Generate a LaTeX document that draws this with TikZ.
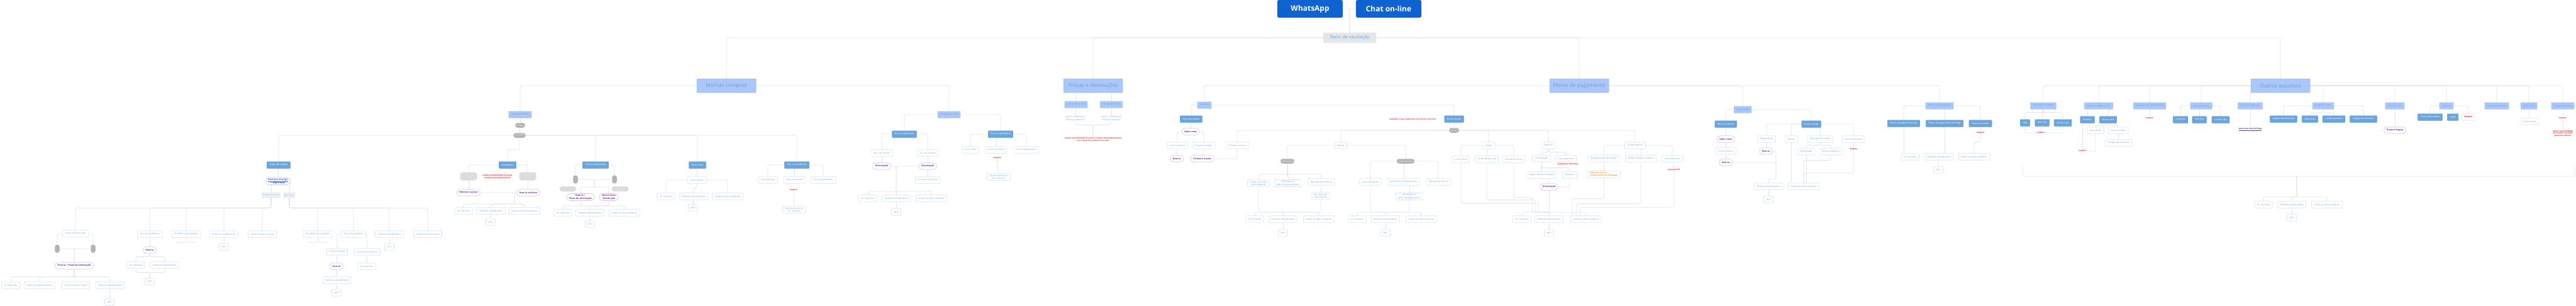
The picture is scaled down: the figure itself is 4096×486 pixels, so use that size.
\documentclass[tikz,border=0pt]{standalone}
\usepackage{fontspec}
\setmainfont{Open Sans}
\usepackage{tikz}
\usetikzlibrary{arrows.meta,positioning,calc,backgrounds}
\definecolor{btnblue}{HTML}{0E63D0}
\definecolor{greetfill}{HTML}{E4E6E9}
\definecolor{greettext}{HTML}{72A8DE}
\definecolor{catfill}{HTML}{A9C7F8}
\definecolor{catdraw}{HTML}{9CBCF2}
\definecolor{cattext}{HTML}{6C9FD6}
\definecolor{topicfill}{HTML}{6AA6DD}
\definecolor{topicdraw}{HTML}{5B9AD5}
\definecolor{optdraw}{HTML}{D8E6F6}
\definecolor{opttext}{HTML}{7DB1E6}
\definecolor{howdraw}{HTML}{D9C8EE}
\definecolor{howtext}{HTML}{6F2DA8}
\definecolor{pillgrey}{HTML}{B3B3B3}
\definecolor{tagfill}{HTML}{EEF1F4}
\definecolor{tagdraw}{HTML}{D5DAE0}
\definecolor{dotgrey}{HTML}{DCDCDC}
\definecolor{notered}{HTML}{FF2A2A}
\definecolor{noteorange}{HTML}{F2A23C}
\definecolor{faintgrey}{HTML}{D9D9D9}
\definecolor{linegrey}{HTML}{E2E5E9}
\definecolor{linkblue}{HTML}{2F6FD6}
\tikzset{
  bigbtn/.style={rectangle,rounded corners=2.5mm,fill=btnblue,text=white,align=center,minimum width=104mm,minimum height=28mm,font=\fontsize{34}{38}\selectfont\bfseries},
  greetbox/.style={rectangle,rounded corners=1mm,fill=greetfill,draw=greetfill,text=greettext,align=center,minimum width=84mm,minimum height=16mm,font=\fontsize{21}{24}\selectfont},
  l1box/.style={rectangle,rounded corners=0.6mm,fill=catfill,draw=catdraw,line width=0.5mm,text=cattext,align=center,minimum width=94mm,minimum height=22mm,font=\fontsize{24}{28}\selectfont},
  catbox/.style={rectangle,rounded corners=0.6mm,fill=catfill,draw=catdraw,line width=0.5mm,densely dashed,text=cattext,align=center,inner xsep=4mm,minimum height=10.5mm,font=\fontsize{10.5}{12.5}\selectfont},
  topicbox/.style={rectangle,rounded corners=0.6mm,fill=topicfill,draw=topicdraw,line width=0.5mm,text=white,align=center,inner xsep=4mm,minimum height=10.5mm,font=\fontsize{10.5}{12.5}\selectfont},
  optbox/.style={rectangle,rounded corners=1mm,fill=white,draw=optdraw,line width=0.7mm,text=opttext,align=center,inner xsep=4mm,inner ysep=1.5mm,minimum height=10.5mm,font=\fontsize{10.5}{12.5}\selectfont},
  howbox/.style={rectangle,rounded corners=5mm,fill=white,draw=howdraw,line width=0.7mm,text=howtext,align=center,inner xsep=4mm,inner ysep=1.5mm,minimum height=10.5mm,font=\fontsize{10.5}{12.5}\selectfont\bfseries},
  idpill/.style={rectangle,rounded corners=3.5mm,fill=pillgrey,text=white,align=center,inner xsep=2.5mm,inner ysep=0.5mm,minimum height=7.5mm,font=\fontsize{8.5}{10}\selectfont},
  tagbox/.style={rectangle,rounded corners=0.6mm,fill=tagfill,draw=tagdraw,line width=0.5mm,densely dotted,text=opttext,align=center,inner xsep=1.5mm,inner ysep=0.5mm,minimum height=8mm,font=\fontsize{8}{9}\selectfont},
  vpill/.style={rectangle,rounded corners=3.5mm,fill=pillgrey,text=white,align=center,inner sep=0mm,minimum width=7.5mm,minimum height=13mm,font=\fontsize{6}{6}\selectfont},
  dotbox/.style={rectangle,rounded corners=4mm,fill=dotgrey,text=white,align=center,inner sep=0.5mm,minimum width=27mm,minimum height=#1,font=\fontsize{7}{7}\selectfont\bfseries},
  notered/.style={text=notered,align=center,inner sep=0.5mm,font=\fontsize{9}{10.5}\selectfont\bfseries},
  orangebox/.style={optbox,text=noteorange,align=left,font=\fontsize{9.5}{11}\selectfont\bfseries},
  mapbox/.style={optbox,text=notered,font=\fontsize{10}{12}\selectfont\bfseries},
  faint/.style={text=faintgrey,inner sep=0.5mm,font=\fontsize{9.5}{11}\selectfont},
  igual/.style={text=opttext,align=center,inner sep=0.5mm,font=\fontsize{10}{12}\selectfont},
  webtext/.style={text=howtext,inner sep=0.5mm,font=\fontsize{9.5}{11}\selectfont\bfseries},
  arrow/.style={-{Latex[length=2mm,width=1.8mm]},line width=0.8mm,draw=linegrey,rounded corners=3mm},
  wire/.style={line width=0.8mm,draw=linegrey,rounded corners=3mm}
}

\begin{document}
\begin{tikzpicture}[x=1mm,y=-1mm]
  \begin{scope}[on background layer]
    \fill[white] (0,0) rectangle (4096,486);
  \end{scope}
  \useasboundingbox (0,0) rectangle (4096,486);

  \node[bigbtn] (wa) at (2083,14) {WhatsApp};
  \node[bigbtn] (chat) at (2208,14) {Chat on-line};
  \node[greetbox] (greet) at (2146,60) {Texto de saudação};

  \node[l1box] (minhas) at (1155,136) {Minhas compras};
  \node[l1box] (trocas) at (1738,136) {Trocas e devoluções};
  \node[l1box] (meios) at (2511,136) {Meios de pagamento};
  \node[l1box] (outros) at (3626,136) {Outros assuntos};

  \node[catbox] (mcOn) at (827,182) {Compras on-line};
  \node[catbox] (mcLoja) at (1509,182) {Compras na loja};
  \node[idpill] (idUser) at (827,199) {id. user};
  \node[idpill] (idPed) at (826,215) {id. pedido};

  \node[topicbox] (status) at (443,262) {Status do pedido};
  \node[howbox] (rastrear) at (442,288) {{\color{linkblue}\underline{Rastrear entrega}}\\+ explicação};
  \node[tagbox] (recebi) at (431,310) {Recebi meu pedido};
  \node[tagbox] (naoRec) at (460,310) {Não recebi};
  \node[optbox] (tdA) at (120,371) {Troca ou devolução};
  \node[optbox] (tpA) at (238,372) {Tive um problema};
  \node[optbox] (eoA) at (296,372) {Escolher outro pedido};
  \node[optbox] (faA) at (356,372) {Finalizar atendimento};
  \node[optbox] (vmA) at (417,372) {Voltar ao menu inicial};
  \node[faint] (voltaA) at (296,386) {volta para id. pedido};
  \node[optbox] (npsA) at (356,392) {NPS};
  \node[optbox] (eoB) at (505,372) {Escolher outro pedido};
  \node[optbox] (tpB) at (562,372) {Tive um problema};
  \node[optbox] (faB) at (619,372) {Finalizar atendimento};
  \node[optbox] (vmB) at (680,372) {Voltar ao menu inicial};
  \node[faint] (voltaB) at (505,386) {volta para id. pedido};
  \node[optbox] (npsB) at (619,392) {NPS};
  \node[vpill] (vp1) at (91,395) {·\\·};
  \node[vpill] (vp2) at (148,395) {·\\·};
  \node[howbox] (howA) at (118,422) {How to + Fluxo de solicitação};
  \node[optbox] (ahA) at (17,453) {At. Humano};
  \node[optbox] (vaA) at (63,453) {Voltar ao menu anterior};
  \node[optbox] (viA) at (120,453) {Voltar ao menu inicial};
  \node[optbox] (fnA) at (175,453) {Finalizar atendimento};
  \node[optbox] (npsC) at (174,480) {NPS};
  \node[howbox] (howB) at (238,397) {How to};
  \node[optbox] (ahB) at (216,421) {At. humano};
  \node[optbox] (fnB) at (262,421) {Finalizar atendimento};
  \node[optbox] (npsD) at (238,447) {NPS};
  \node[optbox] (ceA) at (536,400) {Com a entrega};
  \node[optbox] (coA) at (584,400) {Com outro assunto};
  \node[howbox] (howC) at (535,423) {How to};
  \node[optbox] (ahC) at (583,423) {At. humano};
  \node[optbox] (fnC) at (536,445) {Finalizar atendimento};
  \node[optbox] (npsE) at (535,465) {NPS};

  \node[topicbox] (reemb) at (807,262) {Reembolso};
  \node[dotbox=13mm] (dotL) at (745,280) {· · · · · · ·\\· · · · · ·};
  \node[dotbox=13mm] (dotR) at (839,280) {· · · · · · ·\\· · · · · ·};
  \node[notered] (noteA) at (791,280) {avaliar possibilidade de puxar\\o status automaticamente};
  \node[howbox] (mostrar) at (745,306) {Mostrar o prazo};
  \node[howbox] (howSol) at (840,306) {How to solicitar};
  \node[optbox] (ahD) at (737,335) {At. humano};
  \node[optbox] (fnD) at (781,335) {Finalizar atendimento};
  \node[optbox] (vaD) at (834,335) {Voltar ao menu anterior};
  \node[optbox] (npsF) at (780,353) {NPS};

  \node[topicbox] (tdv) at (947,262) {Troca ou devolução};
  \node[vpill] (vp3) at (915,285) {·\\·};
  \node[vpill] (vp4) at (977,285) {·\\·};
  \node[dotbox=8mm] (dot3) at (903,300) {· · · · · · ·};
  \node[dotbox=8mm] (dot4) at (986,300) {· · · · · · ·};
  \node[howbox] (howD) at (923,313) {How to +\\Fluxo de solicitação};
  \node[howbox] (stD) at (968,313) {Status troca\\/devolução};
  \node[optbox] (ahE) at (895,338) {At. humano};
  \node[optbox] (fnE) at (938,338) {Finalizar atendimento};
  \node[optbox] (vaE) at (993,338) {Voltar ao menu anterior};
  \node[optbox] (npsG) at (938,356) {NPS};

  \node[topicbox] (nf) at (1109,262) {Nota Fiscal};
  \node[optbox] (comoB) at (1108,286) {Como baixar};
  \node[optbox] (ahF) at (1059,312) {At. humano};
  \node[optbox] (fnF) at (1103,312) {Finalizar atendimento};
  \node[optbox] (vaF) at (1157,312) {Voltar ao menu anterior};
  \node[optbox] (npsH) at (1102,330) {NPS};

  \node[topicbox] (tpC) at (1267,262) {Tive um problema};
  \node[optbox] (ceB) at (1221,286) {Com entrega};
  \node[optbox] (cpB) at (1263,286) {Com o produto};
  \node[optbox] (cgB) at (1309,286) {Com o pagamento};
  \node[notered] (map1) at (1262,302) {mapear};
  \node[optbox] (dirA) at (1263,333) {Direcionamento/\\At. humano};

  \node[topicbox] (tedA) at (1438,213) {Troca e devolução};
  \node[topicbox] (tpD) at (1591,213) {Tive um problema};
  \node[optbox] (hmA) at (1402,243) {Há + de 30 dias};
  \node[optbox] (hmB) at (1475,243) {Há - de 30 dias};
  \node[howbox] (orA) at (1402,264) {Orientação};
  \node[howbox] (orB) at (1475,264) {Orientação};
  \node[optbox] (encA) at (1475,286) {Encontre uma loja};
  \node[optbox] (ahG) at (1380,315) {At. humano};
  \node[optbox] (fnG) at (1425,315) {Finalizar atendimento};
  \node[optbox] (vaG) at (1481,315) {Voltar ao menu anterior};
  \node[optbox] (npsI) at (1425,337) {NPS};
  \node[optbox] (clB) at (1543,238) {Com a loja};
  \node[optbox] (cpC) at (1584,238) {Com o produto};
  \node[optbox] (cgC) at (1632,238) {Com o pagamento};
  \node[notered] (map2) at (1586,251) {mapear};
  \node[optbox] (dirB) at (1588,281) {Direcionamento/\\At. humano};

  \node[catbox] (tdOn) at (1711,166) {Compras on-line};
  \node[catbox] (tdLoja) at (1767,166) {Compras na loja};
  \node[igual] (igA) at (1710,188) {Igual o caminho de\\“Minhas compras”};
  \node[igual] (igB) at (1767,188) {Igual o caminho de\\“Minhas compras”};
  \node[notered] (noteB) at (1738,222) {avaliar possibilidade de puxar o status automaticamente\\(se o usuário já solicitou ou não)};

  \node[catbox] (pay) at (1915,167) {C\&A Pay};
  \node[topicbox] (nsA) at (1894,189) {Não sou cliente};
  \node[topicbox] (jsA) at (2312,189) {Já sou cliente};
  \node[notered] (noteC) at (2246,190) {entender o que realmente vai entrar na árvore};
  \node[howbox] (saberA) at (1893,209) {Saber mais};
  \node[optbox] (csA) at (1872,231) {Como solicitar};
  \node[optbox] (paA) at (1914,231) {Primeiro acesso};
  \node[howbox] (howE) at (1871,252) {How to};
  \node[howbox] (paB) at (1912,252) {Primeiro acesso};
  \node[optbox] (paC) at (1967,231) {Primeiro acesso};
  \node[idpill] (idUser2) at (2312,207) {id. user};
  \node[optbox] (fat) at (2132,231) {Fatura};
  \node[optbox] (lim) at (2367,231) {Limites};
  \node[optbox] (seg) at (2462,231) {Seguros};
  \node[optbox] (outOp) at (2600,231) {Outras opções};

  \node[idpill] (upaga) at (2047,256) {Última paga};
  \node[idpill] (unpaga) at (2235,256) {Última não paga};
  \node[optbox] (ccf) at (2001,291) {Como consultar\\fatura aberta};
  \node[optbox] (apA) at (2048,291) {Alteração no\\plano de pagamento};
  \node[optbox] (dvA) at (2101,289) {Data de vencimento};
  \node[optbox] (adv) at (2100,311) {Alt. Data de\\vencimento};
  \node[optbox] (ahH) at (1995,348) {At. humano};
  \node[optbox] (fnH) at (2040,348) {Finalizar atendimento};
  \node[optbox] (vaH) at (2097,348) {Voltar ao menu anterior};
  \node[optbox] (npsJ) at (2040,370) {NPS};
  \node[optbox] (v2) at (2179,289) {2a via da fatura};
  \node[optbox] (cpag) at (2232,289) {Condições de pagamento};
  \node[optbox] (renf) at (2287,289) {Renegociar fatura};
  \node[optbox] (apB) at (2241,312) {Alteração no\\plano de pagamento};
  \node[optbox] (ahI) at (2158,348) {At. humano};
  \node[optbox] (fnI) at (2203,348) {Finalizar atendimento};
  \node[optbox] (vaI) at (2260,348) {Voltar ao menu anterior};
  \node[optbox] (npsK) at (2203,370) {NPS};

  \node[optbox] (lt) at (2323,253) {Limite total};
  \node[optbox] (ld) at (2364,253) {Limite disponível};
  \node[optbox] (al) at (2407,253) {Aumentar limite};
  \node[optbox] (contr) at (2451,252) {Contratação};
  \node[optbox] (canc) at (2490,252) {Cancelamento};
  \node[notered] (noteD) at (2493,261) {já passa no bot atual};
  \node[optbox] (sbp) at (2452,278) {Seguro Bolsa Protegida};
  \node[optbox] (sx) at (2496,278) {Seguro X};
  \node[howbox] (orC) at (2463,297) {Orientação};
  \node[optbox] (rd) at (2550,252) {Renegociação de dívidas};
  \node[optbox] (mdc) at (2609,252) {Melhor dia pra comprar};
  \node[optbox] (cancB) at (2659,252) {Cancelamento};
  \node[orangebox] (orng) at (2550,277) {Importar just do\\renegociação do Whatsapp};
  \node[notered] (noteE) at (2662,270) {já passa API};
  \node[optbox] (ahJ) at (2420,348) {At. humano};
  \node[optbox] (fnJ) at (2463,348) {Finalizar atendimento};
  \node[optbox] (vaJ) at (2522,348) {Voltar ao menu anterior};
  \node[optbox] (npsL) at (2463,370) {NPS};

  \node[catbox] (cartao) at (2771,174) {Cartão C\&A};
  \node[topicbox] (nsB) at (2744,197) {Não sou cliente};
  \node[topicbox] (jsB) at (2880,197) {Já sou cliente};
  \node[howbox] (saberB) at (2744,221) {Saber mais};
  \node[optbox] (csB) at (2744,240) {Como solicitar};
  \node[howbox] (howF) at (2744,258) {How to};
  \node[optbox] (sv) at (2809,221) {Segunda via};
  \node[optbox] (ext) at (2848,221) {Extrato};
  \node[optbox] (bloq) at (2894,221) {Bloqueio de cartão};
  \node[optbox] (oaB) at (2947,221) {Outros assuntos};
  \node[howbox] (howG) at (2808,240) {How to};
  \node[optbox] (blqd) at (2872,241) {Bloqueado};
  \node[optbox] (dbl) at (2911,241) {Desejo bloquear};
  \node[notered] (map3) at (2947,237) {mapear};
  \node[optbox] (fnK) at (2812,296) {Finalizar atendimento};
  \node[optbox] (vaK) at (2868,296) {Voltar ao menu anterior};
  \node[optbox] (npsM) at (2812,317) {NPS};

  \node[catbox] (mp) at (3084,168) {Meios de pagamento};
  \node[topicbox] (mpl) at (3027,196) {Meios de pagamento loja};
  \node[topicbox] (mps) at (3092,196) {Meios de pagamento site/app};
  \node[topicbox] (oaC) at (3149,196) {Outros assuntos};
  \node[notered] (map4) at (3149,211) {mapear};
  \node[optbox] (ahK) at (3037,249) {At. humano};
  \node[optbox] (fnL) at (3083,249) {Finalizar atendimento};
  \node[optbox] (vaL) at (3139,249) {Voltar ao menu anterior};
  \node[optbox] (npsN) at (3082,270) {NPS};

  \node[catbox] (ad) at (3249,168) {Alteração de dados};
  \node[catbox] (cvc) at (3337,168) {C\&A\&VC e Minha C\&A};
  \node[catbox] (camp) at (3418,168) {Campanhas e promoções};
  \node[catbox] (cancC) at (3500,168) {Cancelamentos};
  \node[catbox] (enc) at (3578,168) {Encontre uma loja};
  \node[catbox] (cup) at (3694,168) {Cupons e vales};
  \node[catbox] (duv) at (3808,168) {Dúvidas C\&A};
  \node[catbox] (pol) at (3890,168) {Políticas};
  \node[catbox] (trab) at (3970,168) {Trabalhe conosco};
  \node[catbox] (nfB) at (4021,168) {Nota fiscal};
  \node[catbox] (oaD) at (4075,168) {Outros assuntos};
  \node[topicbox] (c1) at (3220,195) {C\&A};
  \node[topicbox] (c2) at (3247,195) {C\&A Pay};
  \node[topicbox] (c3) at (3280,195) {Cartão C\&A};
  \node[notered] (map5) at (3245,211) {mapear};
  \node[topicbox] (cv1) at (3319,190) {C\&A\&VC};
  \node[topicbox] (cv2) at (3352,190) {Minha C\&A};
  \node[optbox] (sc) at (3332,207) {Sou cliente};
  \node[optbox] (scons) at (3368,207) {Sou consultor};
  \node[optbox] (cdc) at (3369,227) {Código de consultor};
  \node[notered] (map6) at (3311,240) {mapear};
  \node[notered] (map7) at (3418,188) {mapear};
  \node[topicbox] (cp1) at (3467,190) {Compras};
  \node[topicbox] (cp2) at (3497,190) {C\&A Pay};
  \node[topicbox] (cp3) at (3531,190) {Cartão C\&A};
  \node[webtext] (lnk) at (3578,205) {\underline{www.cea.com.br/lojas}};
  \node[topicbox] (cd) at (3631,189) {Cupom de desconto};
  \node[topicbox] (vt) at (3673,189) {Vale-troca};
  \node[topicbox] (cpr) at (3711,189) {Cartão presente};
  \node[topicbox] (cdcB) at (3758,189) {Código do consultor};
  \node[howbox] (oque) at (3808,207) {O que é/regras};
  \node[topicbox] (ted2) at (3864,186) {Troca e devolução};
  \node[topicbox] (lgpd) at (3900,186) {LGPD};
  \node[mapbox] (mapB) at (3925,186) {Mapear};
  \node[optbox] (cbB) at (4022,193) {Como baixar};
  \node[notered] (map8) at (4075,188) {mapear};
  \node[notered] (noteF) at (4075,212) {avaliar possibilidade\\do usuário escrever\\(palavras chaves)};
  \coordinate (mgL) at (3216,262);
  \coordinate (mgR) at (4094,262);
  \coordinate (mgC) at (3652,280);
  \node[optbox] (ahL) at (3599,325) {At. humano};
  \node[optbox] (fnM) at (3644,325) {Finalizar atendimento};
  \node[optbox] (vaM) at (3700,325) {Voltar ao menu anterior};
  \node[optbox] (npsO) at (3644,346) {NPS};

  \coordinate (m1) at (818,324);
  \coordinate (m2) at (945,297);
  \coordinate (m3) at (938,327);
  \coordinate (m4) at (1425,304);
  \coordinate (m5) at (2040,337);
  \coordinate (m6) at (2203,337);
  \coordinate (m7) at (2463,337);
  \coordinate (m9) at (2824,284);

  \begin{scope}[on background layer]
  \draw[arrow] (wa.east) -| (greet.north);
  \draw[arrow] (chat.west) -| (greet.north);
  \draw[arrow] (greet.west) -| (minhas.north);
  \draw[arrow] (greet.west) -| (trocas.north);
  \draw[arrow] (greet.east) -| (meios.north);
  \draw[arrow] (greet.east) -| (outros.north);

  \draw[arrow] (minhas.west) -| (mcOn.north);
  \draw[arrow] (minhas.east) -| (mcLoja.north);
  \draw[arrow] (mcOn) -- (idUser);
  \draw[arrow] (idUser) -- (idPed);
  \draw[arrow] (idPed.west) -| (status.north);
  \draw[arrow] (idPed.east) -| (tdv.north);
  \draw[arrow] (idPed.east) -| (nf.north);
  \draw[arrow] (idPed.east) -| (tpC.north);
  \draw[arrow] (idPed.south) -- ++(0,19) -| (reemb.north);

  \draw[arrow] (status) -- (rastrear);
  \draw[arrow] (rastrear.south -| recebi.north) -- (recebi.north);
  \draw[arrow] (rastrear.south -| naoRec.north) -- (naoRec.north);
  \draw[arrow] (recebi.south) -- ++(0,16) -| (tdA.north);
  \draw[arrow] (recebi.south) -- ++(0,16) -| (tpA.north);
  \draw[arrow] (recebi.south) -- ++(0,16) -| (eoA.north);
  \draw[arrow] (recebi.south) -- ++(0,16) -| (faA.north);
  \draw[arrow] (recebi.south) -- ++(0,16) -| (vmA.north);
  \draw[arrow] (naoRec.south) -- ++(0,16) -| (eoB.north);
  \draw[arrow] (naoRec.south) -- ++(0,16) -| (tpB.north);
  \draw[arrow] (naoRec.south) -- ++(0,16) -| (faB.north);
  \draw[arrow] (naoRec.south) -- ++(0,16) -| (vmB.north);
  \draw[arrow] (eoA) -- (voltaA);
  \draw[arrow] (faA) -- (npsA);
  \draw[arrow] (eoB) -- (voltaB);
  \draw[arrow] (faB) -- (npsB);
  \draw[arrow] (tdA.west) -| (vp1.north);
  \draw[arrow] (tdA.east) -| (vp2.north);
  \draw[arrow] (vp1.east) -| (howA.north);
  \draw[arrow] (vp2.west) -| (howA.north);
  \draw[arrow] (howA.south) -- ++(0,12) -| (ahA.north);
  \draw[arrow] (howA.south) -- ++(0,12) -| (vaA.north);
  \draw[arrow] (howA.south) -- ++(0,12) -| (viA.north);
  \draw[arrow] (howA.south) -- ++(0,12) -| (fnA.north);
  \draw[arrow] (fnA) -- (npsC);
  \draw[arrow] (tpA) -- (howB);
  \draw[arrow] (howB.south) -- ++(0,5) -| (ahB.north);
  \draw[arrow] (howB.south) -- ++(0,5) -| (fnB.north);
  \draw[arrow] (ahB.south) -- ++(0,6) -| (npsD.north);
  \draw[arrow] (fnB.south) -- ++(0,6) -| (npsD.north);
  \draw[arrow] (tpB.west) -| (ceA.north);
  \draw[arrow] (tpB.east) -| (coA.north);
  \draw[arrow] (ceA) -- (howC);
  \draw[arrow] (howC) -- (fnC);
  \draw[arrow] (fnC) -- (npsE);
  \draw[arrow] (coA) -- (ahC);

  \draw[arrow] (reemb.west) -| (dotL.north);
  \draw[arrow] (reemb.east) -| (dotR.north);
  \draw[arrow] (dotL) -- (mostrar);
  \draw[arrow] (dotR) -- (howSol);
  \draw[wire] (mostrar.east) -| (m1);
  \draw[wire] (howSol.west) -| (m1);
  \draw[arrow] (m1) -| (ahD.north);
  \draw[arrow] (m1) -| (fnD.north);
  \draw[arrow] (m1) -| (vaD.north);
  \draw[arrow] (fnD) -- (npsF);

  \draw[arrow] (tdv.west) -| (vp3.north);
  \draw[arrow] (tdv.east) -| (vp4.north);
  \draw[wire] (vp3.east) -| (m2);
  \draw[wire] (vp4.west) -| (m2);
  \draw[arrow] (m2) -| (howD.north);
  \draw[arrow] (m2) -| (stD.north);
  \draw[wire] (howD.south) |- (m3);
  \draw[wire] (stD.south) |- (m3);
  \draw[arrow] (m3) -| (ahE.north);
  \draw[arrow] (m3) -- (fnE.north);
  \draw[arrow] (m3) -| (vaE.north);
  \draw[arrow] (fnE) -- (npsG);

  \draw[arrow] (nf) -- (comoB);
  \draw[arrow] (comoB.west) -| (ahF.north);
  \draw[arrow] (comoB.south) -- ++(0,7) -| (fnF.north);
  \draw[arrow] (comoB.east) -| (vaF.north);
  \draw[arrow] (fnF) -- (npsH);

  \draw[arrow] (tpC.west) -| (ceB.north);
  \draw[arrow] (tpC.south -| cpB.north) -- (cpB.north);
  \draw[arrow] (tpC.east) -| (cgB.north);
  \draw[arrow] (dirA) -- (map1);

  \draw[arrow] (mcLoja.west) -| (tedA.north);
  \draw[arrow] (mcLoja.east) -| (tpD.north);
  \draw[arrow] (tedA.west) -| (hmA.north);
  \draw[arrow] (tedA.east) -| (hmB.north);
  \draw[arrow] (hmA) -- (orA);
  \draw[arrow] (hmB) -- (orB);
  \draw[arrow] (orB) -- (encA);
  \draw[wire] (orA.east) -| (m4);
  \draw[wire] (orB.west) -| (m4);
  \draw[arrow] (m4) -| (ahG.north);
  \draw[arrow] (m4) -- (fnG.north);
  \draw[arrow] (m4) -| (vaG.north);
  \draw[arrow] (fnG) -- (npsI);
  \draw[arrow] (tpD.west) -| (clB.north);
  \draw[arrow] (tpD.south -| cpC.north) -- (cpC.north);
  \draw[arrow] (tpD.east) -| (cgC.north);
  \draw[arrow] (dirB) -- (map2);

  \draw[arrow] (trocas.south -| tdOn.north) -- (tdOn.north);
  \draw[arrow] (trocas.south -| tdLoja.north) -- (tdLoja.north);
  \draw[arrow] (tdOn) -- (igA);
  \draw[arrow] (tdLoja) -- (igB);
  \draw[arrow] (igA.south) -- ++(0,6) -| (noteB.north);
  \draw[arrow] (igB.south) -- ++(0,6) -| (noteB.north);

  \draw[arrow] (meios.west) -| (pay.north);
  \draw[arrow] (meios.east) -| (cartao.north);
  \draw[arrow] (meios.east) -| (mp.north);
  \draw[arrow] (pay.west) -| (nsA.north);
  \draw[arrow] (pay.east) -| (jsA.north);
  \draw[arrow] (nsA) -- (saberA);
  \draw[arrow] (saberA.west) -| (csA.north);
  \draw[arrow] (saberA.east) -| (paA.north);
  \draw[arrow] (csA) -- (howE);
  \draw[arrow] (paA) -- (paB);
  \draw[arrow] (paB.east) -| (paC.south);
  \draw[arrow] (jsA) -- (idUser2);
  \draw[arrow] (idUser2.west) -| (paC.north);
  \draw[arrow] (idUser2.west) -| (fat.north);
  \draw[arrow] (idUser2.east) -| (lim.north);
  \draw[arrow] (idUser2.east) -| (seg.north);
  \draw[arrow] (idUser2.east) -| (outOp.north);

  \draw[arrow] (fat.west) -| (upaga.north);
  \draw[arrow] (fat.east) -| (unpaga.north);
  \draw[arrow] (upaga.south) -- ++(0,17) -| (ccf.north);
  \draw[arrow] (upaga.south) -- ++(0,17) -| (apA.north);
  \draw[arrow] (upaga.south) -- ++(0,17) -| (dvA.north);
  \draw[arrow] (dvA) -- (adv);
  \draw[wire] (ccf.south) |- (m5);
  \draw[wire] (adv.south) |- (m5);
  \draw[arrow] (m5) -| (ahH.north);
  \draw[arrow] (m5) -- (fnH.north);
  \draw[arrow] (m5) -| (vaH.north);
  \draw[arrow] (fnH) -- (npsJ);
  \draw[arrow] (unpaga.west) -| (v2.north);
  \draw[arrow] (unpaga.south -| cpag.north) -- (cpag.north);
  \draw[arrow] (unpaga.east) -| (renf.north);
  \draw[arrow] (cpag.south -| apB.north) -- (apB.north);
  \draw[wire] (v2.south) |- (m6);
  \draw[wire] (apB.south) |- (m6);
  \draw[arrow] (m6) -| (ahI.north);
  \draw[arrow] (m6) -- (fnI.north);
  \draw[arrow] (m6) -| (vaI.north);
  \draw[arrow] (fnI) -- (npsK);

  \draw[arrow] (lim.west) -| (lt.north);
  \draw[arrow] (lim.south -| ld.north) -- (ld.north);
  \draw[arrow] (lim.east) -| (al.north);
  \draw[wire] (lt.south) |- ++(123,64) |- (m7);
  \draw[wire] (ld.south) |- ++(77,59) |- (m7);
  \draw[wire] (al.south) |- ++(29,55) |- (m7);
  \draw[arrow] (seg.south) -- ++(0,5) -| (contr.north);
  \draw[arrow] (seg.south) -- ++(0,5) -| (canc.north);
  \draw[arrow] (contr.south) -- ++(0,9) -| (sbp.north);
  \draw[arrow] (contr.south) -- ++(0,9) -| (sx.north);
  \draw[arrow] (sbp.south -| orC.north) -- (orC.north);
  \draw[arrow] (sx.south) |- (orC.east);
  \draw[wire] (orC.south) -- (m7);
  \draw[arrow] (m7) -| (ahJ.north);
  \draw[arrow] (m7) -- (fnJ.north);
  \draw[arrow] (m7) -| (vaJ.north);
  \draw[arrow] (fnJ) -- (npsL);
  \draw[arrow] (outOp.west) -| (rd.north);
  \draw[arrow] (outOp.south -| mdc.north) -- (mdc.north);
  \draw[arrow] (outOp.east) -| (cancB.north);
  \draw[arrow] (rd) -- (orng);
  \draw[arrow] (cancB) -- (noteE);
  \draw[arrow] (orng.south) |- ++(-50,33) -- ([xshift=-22mm]vaJ.north);
  \draw[arrow] (mdc.south) |- ++(-102,66) -- ([xshift=-15mm]vaJ.north);
  \draw[arrow] (noteE.south) |- ++(-150,57) -- ([xshift=-10mm]vaJ.north);

  \draw[arrow] (cartao.west) -| (nsB.north);
  \draw[arrow] (cartao.east) -| (jsB.north);
  \draw[arrow] (nsB) -- (saberB);
  \draw[arrow] (saberB) -- (csB);
  \draw[arrow] (csB) -- (howF);
  \draw[arrow] (jsB.west) -| (sv.north);
  \draw[arrow] (jsB.west) -| (ext.north);
  \draw[arrow] (jsB.south -| bloq.north) -- (bloq.north);
  \draw[arrow] (jsB.east) -| (oaB.north);
  \draw[arrow] (sv) -- (howG);
  \draw[arrow] (bloq.south) -- ++(0,4) -| (blqd.north);
  \draw[arrow] (bloq.south) -- ++(0,4) -| (dbl.north);
  \draw[arrow] (oaB) -- (map3);
  \draw[wire] (howF.east) -| (m9);
  \draw[wire] (howG.east) -| (m9);
  \draw[arrow] (m9) -| (fnK.north);
  \draw[arrow] (ext.south) -- (ext.south |- vaK.north);
  \draw[arrow] (blqd.south) -- (blqd.south |- vaK.north);
  \draw[arrow] (dbl.south) -- ++(0,8) -| (vaK.north);
  \draw[arrow] (map3.south) -- ++(0,36) -| (vaK.north);
  \draw[arrow] (fnK) -- (npsM);

  \draw[arrow] (mp.west) -| (mpl.north);
  \draw[arrow] (mp.south -| mps.north) -- (mps.north);
  \draw[arrow] (mp.east) -| (oaC.north);
  \draw[arrow] (oaC) -- (map4);
  \draw[arrow] (mpl.south) -- (mpl.south |- ahK.north);
  \draw[arrow] (mps.south) -- (mps.south |- fnL.north);
  \draw[arrow] (map4.south) -- ++(0,13) -| (vaL.north);
  \draw[arrow] (fnL) -- (npsN);

  \draw[arrow] (outros.west) -| (ad.north);
  \draw[arrow] (outros.west) -| (cvc.north);
  \draw[arrow] (outros.west) -| (camp.north);
  \draw[arrow] (outros.west) -| (cancC.north);
  \draw[arrow] (outros.south -| enc.north) -- (enc.north);
  \draw[arrow] (outros.east) -| (cup.north);
  \draw[arrow] (outros.east) -| (duv.north);
  \draw[arrow] (outros.east) -| (pol.north);
  \draw[arrow] (outros.east) -| (trab.north);
  \draw[arrow] (outros.east) -| (nfB.north);
  \draw[arrow] (outros.east) -| (oaD.north);
  \draw[arrow] (ad.south) -- ++(0,5) -| (c1.north);
  \draw[arrow] (ad.south) -- ++(0,5) -| (c2.north);
  \draw[arrow] (ad.south) -- ++(0,5) -| (c3.north);
  \draw[arrow] (c1.south) |- (map5.west);
  \draw[arrow] (c3.south) |- (map5.east);
  \draw[arrow] (c2) -- (map5);
  \draw[arrow] (cvc.south -| cv1.north) -- (cv1.north);
  \draw[arrow] (cvc.south -| cv2.north) -- (cv2.north);
  \draw[arrow] (cv2.south) -- ++(0,3) -| (sc.north);
  \draw[arrow] (cv2.south) -- ++(0,3) -| (scons.north);
  \draw[arrow] (scons) -- (cdc);
  \draw[arrow] (cv1.south -| map6.north) -- (map6.north);
  \draw[arrow] (sc.south) |- (map6.east);
  \draw[arrow] (camp) -- (map7);
  \draw[arrow] (cancC.west) -| (cp1.north);
  \draw[arrow] (cancC.south -| cp2.north) -- (cp2.north);
  \draw[arrow] (cancC.east) -| (cp3.north);
  \draw[arrow] (enc) -- (lnk);
  \draw[arrow] (cup.west) -| (cd.north);
  \draw[arrow] (cup.south) -- ++(0,6) -| (vt.north);
  \draw[arrow] (cup.south) -- ++(0,6) -| (cpr.north);
  \draw[arrow] (cup.east) -| (cdcB.north);
  \draw[arrow] (duv) -- (oque);
  \draw[arrow] (pol.west) -| (ted2.north);
  \draw[arrow] (pol.south -| lgpd.north) -- (lgpd.north);
  \draw[arrow] (pol.east) -| (mapB.north);
  \draw[arrow] (nfB) -- (cbB);
  \draw[arrow] (oaD) -- (map8);
  \draw[arrow] (map8) -- (noteF);
  \draw[wire] (mgL) -- ++(0,18) -| (mgR);
  \draw[arrow] (mgC) -- ++(0,33) -| (ahL.north);
  \draw[arrow] (mgC) -- ++(0,33) -| (fnM.north);
  \draw[arrow] (mgC) -- ++(0,33) -| (vaM.north);
  \draw[arrow] (fnM) -- (npsO);
  \end{scope}
\end{tikzpicture}
\end{document}
